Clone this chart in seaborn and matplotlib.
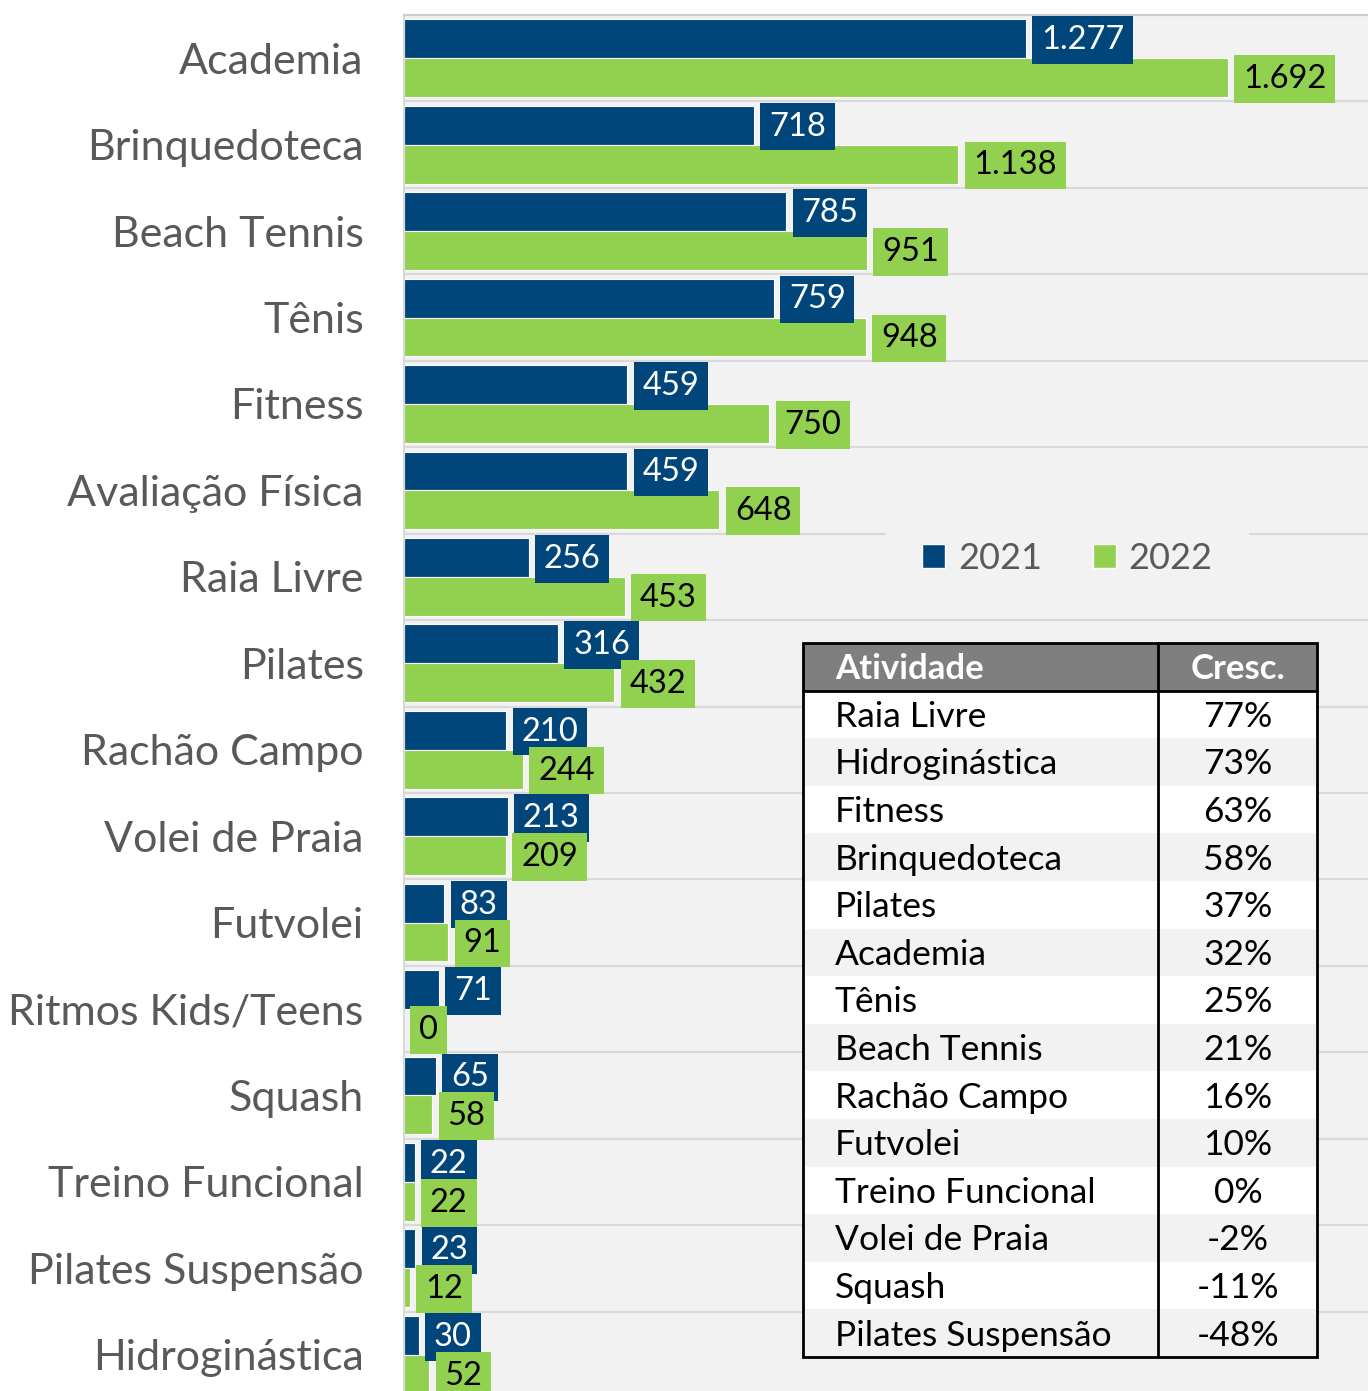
import numpy as np
import pandas as pd
import matplotlib.pyplot as plt
import seaborn as sns
from matplotlib.patches import Patch, Rectangle

# dados
atividades = ['Academia', 'Brinquedoteca', 'Beach Tennis', 'Tênis', 'Fitness',
              'Avaliação Física', 'Raia Livre', 'Pilates', 'Rachão Campo',
              'Volei de Praia', 'Futvolei', 'Ritmos Kids/Teens', 'Squash',
              'Treino Funcional', 'Pilates Suspensão', 'Hidroginástica']
valores_2021 = [1277, 718, 785, 759, 459, 459, 256, 316, 210, 213, 83, 71, 65, 22, 23, 30]
valores_2022 = [1692, 1138, 951, 948, 750, 648, 453, 432, 244, 209, 91, 0, 58, 22, 12, 52]
anos = ['2021', '2022']

# tabela de crescimento
tabela_atividades = ['Raia Livre', 'Hidroginástica', 'Fitness', 'Brinquedoteca',
                     'Pilates', 'Academia', 'Tênis', 'Beach Tennis', 'Rachão Campo',
                     'Futvolei', 'Treino Funcional', 'Volei de Praia', 'Squash',
                     'Pilates Suspensão']
tabela_cresc = ['77%', '73%', '63%', '58%', '37%', '32%', '25%', '21%', '16%',
                '10%', '0%', '-2%', '-11%', '-48%']

azul = '#00467a'
verde = '#92d050'
fundo = '#f2f2f2'
grade = '#d9d9d9'
texto = '#595959'

df = pd.DataFrame({
    'atividade': atividades * 2,
    'ano': [anos[0]] * len(atividades) + [anos[1]] * len(atividades),
    'valor': valores_2021 + valores_2022,
})

sns.set_theme(style='white')
plt.rcParams['font.family'] = ['Lato', 'DejaVu Sans']

W, H = 1368, 1391
fig = plt.figure(figsize=(W / 100, H / 100), dpi=100)
ax = fig.add_axes([404 / W, -7 / H, 964 / W, 1383 / H])
ax.set_facecolor(fundo)

sns.barplot(data=df, x='valor', y='atividade', hue='ano', order=atividades,
            hue_order=anos, palette=[azul, verde], saturation=1, orient='h',
            width=0.9, errorbar=None, edgecolor='white', linewidth=0.8,
            legend=False, ax=ax)

ax.set_xlim(0, 1980)
ax.set_xticks([])
ax.set_xlabel('')
ax.set_ylabel('')

# linhas entre categorias
ax.set_yticks(np.arange(-0.5, len(atividades), 1), minor=True)
ax.grid(which='minor', axis='y', color=grade, lw=1.5)
ax.set_axisbelow(True)
ax.tick_params(axis='y', which='minor', length=10, width=1.5, color=grade, direction='out')
ax.tick_params(axis='y', which='major', length=0, pad=29, labelsize=31, labelcolor=texto)
for s in ['right', 'bottom']:
    ax.spines[s].set_visible(False)
ax.spines['left'].set_color(grade)
ax.spines['left'].set_linewidth(1.5)
ax.spines['top'].set_color('#cccccc')
ax.spines['top'].set_linewidth(1.5)


def fmt(v):
    return f'{int(round(v)):,}'.replace(',', '.')


# rótulos de valor
for cont, cor_txt, cor_box in zip(ax.containers, ['white', 'black'], [azul, verde]):
    for barra in cont:
        v = barra.get_width()
        y = barra.get_y() + barra.get_height() / 2
        ax.annotate(fmt(v), (v, y), xytext=(11, -1), textcoords='offset points',
                    ha='left', va='center', fontsize=23.5, color=cor_txt,
                    bbox=dict(boxstyle='square,pad=0.27', fc=cor_box, ec='none'))

# legenda
handles = [Patch(fc=azul), Patch(fc=verde)]
leg = ax.legend(handles, anos, loc='center', bbox_to_anchor=(0.688, 0.607), ncol=2,
                frameon=True, fancybox=False, facecolor=fundo, edgecolor='none',
                framealpha=1, fontsize=26, handlelength=0.65, handleheight=0.65,
                handletextpad=0.35, columnspacing=1.4, borderpad=1.0)
for t in leg.get_texts():
    t.set_color(texto)

# tabela de crescimento
tab = fig.add_axes([803 / W, 1 - 1357 / H, 514 / W, 714 / H])
n = len(tabela_atividades) + 1
tab.set_xlim(0, 1)
tab.set_ylim(n, 0)
tab.axis('off')
div = 0.69
tab.add_patch(Rectangle((0, 0), 1, 1, fc='#7f7f7f', ec='none'))
tab.text(0.062, 0.55, 'Atividade', ha='left', va='center', fontsize=25,
         fontweight='bold', color='white')
tab.text(0.846, 0.55, 'Cresc.', ha='center', va='center', fontsize=25,
         fontweight='bold', color='white')
for i, (nome, cresc) in enumerate(zip(tabela_atividades, tabela_cresc)):
    cor = 'white' if i % 2 == 0 else fundo
    tab.add_patch(Rectangle((0, i + 1), 1, 1, fc=cor, ec='none'))
    tab.text(0.062, i + 1.55, nome, ha='left', va='center', fontsize=25.5, color='black')
    tab.text(0.846, i + 1.55, cresc, ha='center', va='center', fontsize=25.5, color='black')
tab.add_patch(Rectangle((0, 0), 1, n, fill=False, ec='black', lw=2, clip_on=False))
tab.plot([div, div], [0, n], color='black', lw=2, clip_on=False)
tab.plot([0, 1], [1, 1], color='black', lw=2, clip_on=False)

fig.savefig('out.png', dpi=100)
